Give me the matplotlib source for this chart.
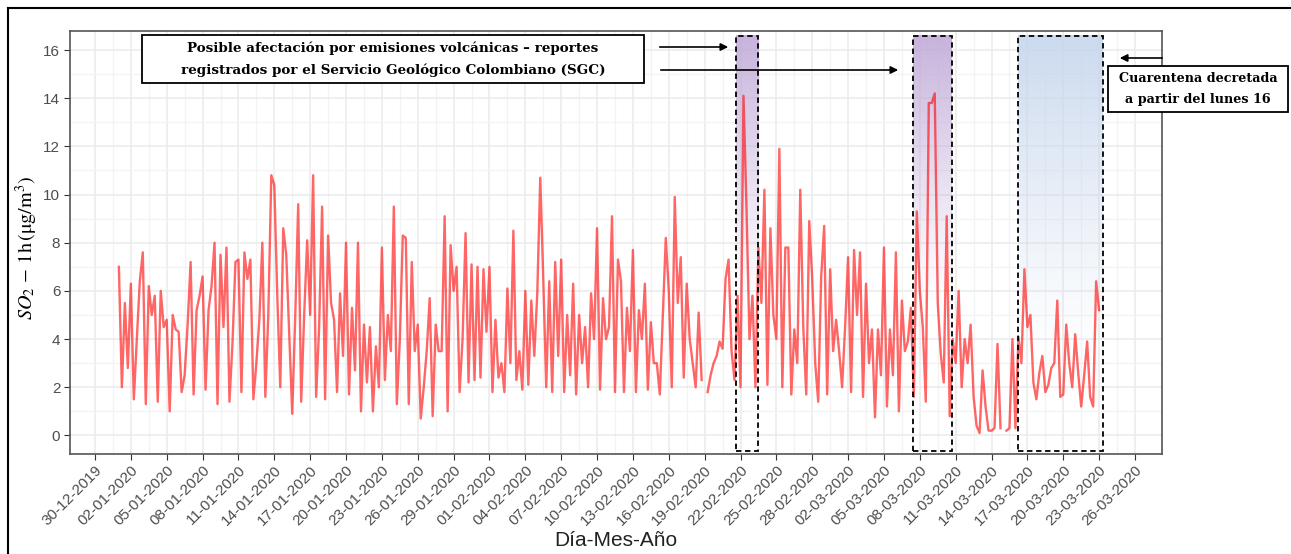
import matplotlib
matplotlib.use('Agg')
import matplotlib.pyplot as plt
import matplotlib.dates as mdates
from matplotlib.patches import Rectangle, FancyArrowPatch
from matplotlib.lines import Line2D
import numpy as np
import pandas as pd

nan = np.nan

# SO2 1-h readings, every 6 h (00, 06, 12, 18 h) starting 01-01-2020
so2_jan = [
    7.0, 2.0, 5.5, 2.8,   6.3, 1.5, 4.0, 6.4,   7.6, 1.3, 6.2, 5.0,   5.8, 1.4, 6.0, 4.5,
    4.8, 1.0, 5.0, 4.4,   4.3, 1.8, 2.5, 4.6,   7.2, 1.7, 5.2, 5.8,   6.6, 1.9, 5.2, 6.2,
    8.0, 1.3, 7.5, 4.5,   7.8, 1.4, 3.8, 7.2,   7.3, 1.8, 7.6, 6.5,   7.3, 1.5, 3.0, 4.8,
    8.0, 1.6, 5.0, 10.8,  10.4, 5.8, 2.0, 8.6,  7.5, 4.2, 0.9, 4.9,   9.6, 1.4, 5.0, 8.1,
    5.0, 10.8, 1.6, 4.5,  9.5, 1.5, 8.3, 5.5,   4.8, 1.8, 5.9, 3.3,   8.0, 1.7, 5.3, 2.7,
    8.0, 1.0, 4.6, 2.2,   4.5, 1.0, 3.7, 2.0,   7.8, 2.3, 5.0, 3.5,   9.5, 1.3, 4.0, 8.3,
    8.2, 1.3, 7.2, 3.5,   4.6, 0.7, 2.0, 3.5,   5.7, 0.8, 4.6, 3.5,   3.5, 9.1, 1.0, 7.9,
    6.0, 7.0, 1.8, 4.0,   8.4, 2.2, 7.1, 2.3,   7.0, 2.4, 6.9, 4.3,
]
so2_feb = [
    7.0, 1.8, 4.8, 2.4,   3.0, 1.8, 6.1, 3.0,   8.5, 2.3, 3.5, 1.9,   6.0, 2.1, 5.6, 3.3,
    5.9, 10.7, 6.5, 2.0,  6.4, 1.8, 7.2, 3.3,   7.3, 1.8, 5.0, 2.5,   6.3, 1.7, 5.0, 3.0,
    4.5, 2.0, 5.9, 4.0,   8.6, 1.9, 5.7, 4.0,   4.5, 9.1, 1.8, 7.3,   6.4, 1.8, 5.3, 3.5,
    7.7, 1.8, 5.2, 4.0,   6.3, 1.9, 4.7, 3.0,   3.0, 1.7, 4.9, 8.2,   6.0, 2.0, 9.9, 5.5,
    7.4, 2.4, 6.3, 4.0,   3.0, 2.0, 5.1, 2.3,   nan, 1.8, 2.5, 3.0,   3.3, 3.9, 3.6, 6.5,
    7.3, 3.5, 2.3, 5.8,   2.0, 14.1, 9.5, 4.0,  5.8, 2.0, 7.8, 5.5,   10.2, 2.1, 8.6, 5.0,
    4.0, 11.9, 2.0, 7.8,  7.8, 1.7, 4.4, 3.0,   10.2, 4.5, 1.7, 8.9,  6.5, 3.0, 1.4, 6.6,
    8.7, 1.7, 6.9, 3.5,
]
so2_mar = [
    4.8, 3.5, 2.0, 4.5,   7.4, 1.8, 7.7, 5.0,   7.6, 1.6, 6.3, 3.0,   4.4, 0.75, 4.4, 2.5,
    7.8, 1.2, 4.4, 2.5,   7.6, 1.0, 5.6, 3.5,   3.9, 5.3, 1.6, 9.3,   6.0, 4.5, 1.4, 13.8,
    13.8, 14.2, 5.5, 3.4, 2.2, 9.1, 0.8, 4.0,   3.0, 6.0, 2.0, 4.0,   3.0, 4.6, 1.6, 0.4,
    0.1, 2.7, 1.2, 0.2,   0.2, 0.3, 3.8, 0.3,   nan, 0.2, 0.3, 4.0,   0.3, 4.1, 3.0, 6.9,
    4.5, 5.0, 2.2, 1.5,   2.6, 3.3, 1.8, 2.1,   2.8, 3.0, 5.6, 1.6,   1.7, 4.6, 3.0, 2.0,
    4.2, 2.6, 1.2, 2.5,   3.9, 1.6, 1.2, 6.4,   5.2,
]

# highlighted periods (start, end) and tick dates
volcanic_periods = [('2020-02-21 14:00', '2020-02-23 10:30'), ('2020-03-07 11:00', '2020-03-10 17:00')]
quarantine_period = ('2020-03-16 06:00', '2020-03-23 07:00')
tick_dates = pd.date_range('2019-12-30', '2020-03-26', freq='3D')

so2 = np.array(so2_jan + so2_feb + so2_mar)
times = pd.date_range('2020-01-01', periods=len(so2), freq='6h')

W, H = 1291, 554
fig = plt.figure(figsize=(W / 100, H / 100), dpi=100)
ax = fig.add_axes([70 / W, 1 - 453.5 / H, 1092 / W, 422.5 / H])

ax.set_xticks(tick_dates)
ax.set_xticks(tick_dates[:-1] + pd.Timedelta(hours=36), minor=True)
ax.xaxis.set_major_formatter(mdates.DateFormatter('%d-%m-%Y'))
ax.set_yticks(np.arange(0, 17, 2))
ax.set_yticks(np.arange(1, 17, 2), minor=True)
ax.grid(which='major', color='#ebebeb', lw=1.1, zorder=0)
ax.grid(which='minor', color='#f3f3f3', lw=0.9, zorder=0)
ax.set_axisbelow(True)

for lab in ax.get_xticklabels():
    lab.set_rotation(45)
    lab.set_ha('right')
    lab.set_rotation_mode('anchor')
ax.tick_params(axis='both', which='major', labelsize=11, colors='#333333', labelcolor='#4d4d4d',
               length=4, width=0.8, pad=3)
ax.tick_params(axis='both', which='minor', length=0)
for lab in ax.get_xticklabels() + ax.get_yticklabels():
    lab.set_family('Liberation Sans')
for sp in ax.spines.values():
    sp.set_color('#555555')
    sp.set_linewidth(1.2)


def gradient_box(t0, t1, y0, y1, rgb, fade_to, top_alpha):
    x0, x1 = mdates.date2num(pd.Timestamp(t0)), mdates.date2num(pd.Timestamp(t1))
    yy = np.linspace(y1, y0, 200)
    alpha = np.clip((yy - fade_to) / (y1 - fade_to), 0, 1) ** 1.2 * top_alpha
    img = np.zeros((200, 2, 4))
    img[:, :, :3] = rgb
    img[:, :, 3] = alpha[:, None]
    ax.imshow(img, extent=[x0, x1, y0, y1], aspect='auto', origin='upper',
              interpolation='bilinear', zorder=1)
    ax.add_patch(Rectangle((x0, y0), x1 - x0, y1 - y0, fill=False, ec='black',
                           lw=1.3, ls=(0, (3, 2)), zorder=4))


for t0, t1 in volcanic_periods:
    gradient_box(t0, t1, -0.66, 16.6, (0.76, 0.67, 0.85), 5.0, 0.9)
gradient_box(quarantine_period[0], quarantine_period[1], -0.66, 16.6, (0.78, 0.84, 0.93), 3.0, 0.9)

ax.plot(times, so2, color='#ff0000', alpha=0.6, lw=1.7, zorder=3)
ax.set_xlim(pd.Timestamp('2020-01-01') - pd.Timedelta(days=4.09),
            pd.Timestamp('2020-01-01') + pd.Timedelta(days=87.26))
ax.set_ylim(-0.75, 16.79)

plt.rcParams['mathtext.fontset'] = 'stix'
fig.text(27 / W, 1 - 248 / H, r'$SO_2\,-\,\mathrm{1h}\,(\mathrm{\mu g/m^3})$', rotation=90,
         ha='center', va='center', fontsize=14.5)
fig.text(616 / W, 1 - 540 / H, 'Día-Mes-Año', ha='center', va='center', fontsize=15,
         family='Liberation Sans', color='#222222')


# annotation boxes (figure pixel positions)
def fig_box(x0, y0, x1, y1):
    fig.add_artist(Rectangle((x0 / W, 1 - y1 / H), (x1 - x0) / W, (y1 - y0) / H,
                             transform=fig.transFigure, fc='white', ec='black', lw=1.3))


def fig_arrow(xa, xb, y):
    fig.add_artist(FancyArrowPatch((xa / W, 1 - y / H), (xb / W, 1 - y / H),
                                   transform=fig.transFigure, arrowstyle='-|>',
                                   mutation_scale=11, lw=1.2, color='black'))


fig_box(142, 35, 644, 83)
fig.text(393 / W, 1 - 48 / H, 'Posible afectación por emisiones volcánicas – reportes',
         ha='center', va='center', fontsize=9.7, family='DejaVu Serif', weight='bold')
fig.text(393 / W, 1 - 70 / H, 'registrados por el Servicio Geológico Colombiano (SGC)',
         ha='center', va='center', fontsize=9.7, family='DejaVu Serif', weight='bold')
fig_arrow(657, 731, 47)
fig_arrow(658, 901, 70)

fig_box(1108, 66, 1288, 112)
fig.text(1198 / W, 1 - 79 / H, 'Cuarentena decretada', ha='center', va='center',
         fontsize=9.2, family='DejaVu Serif', weight='bold')
fig.text(1198 / W, 1 - 99 / H, 'a partir del lunes 16', ha='center', va='center',
         fontsize=9.2, family='DejaVu Serif', weight='bold')
fig_arrow(1165, 1117, 58)

# outer frame
fig.add_artist(Line2D([8 / W, 1], [1 - 8 / H, 1 - 8 / H], transform=fig.transFigure, color='black', lw=1.5))
fig.add_artist(Line2D([8 / W, 8 / W], [0, 1 - 8 / H], transform=fig.transFigure, color='black', lw=1.5))

fig.savefig('out.png', dpi=100)
